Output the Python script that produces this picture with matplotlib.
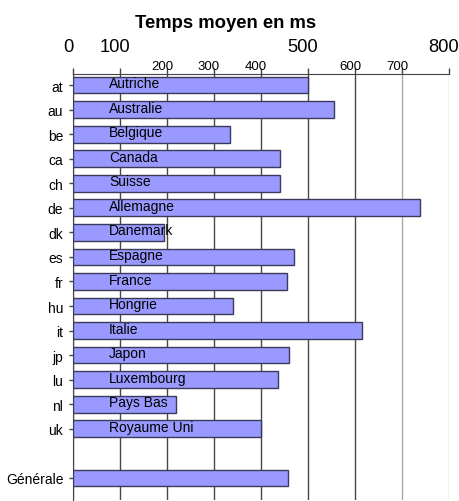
import matplotlib
matplotlib.use("Agg")
import matplotlib.pyplot as plt
import matplotlib.transforms as mtransforms

codes = ["at", "au", "be", "ca", "ch", "de", "dk", "es", "fr", "hu", "it", "jp", "lu", "nl", "uk", "", "Générale"]
names = ["Autriche", "Australie", "Belgique", "Canada", "Suisse", "Allemagne", "Danemark", "Espagne",
         "France", "Hongrie", "Italie", "Japon", "Luxembourg", "Pays Bas", "Royaume Uni", "", ""]
values = [500, 555, 335, 440, 440, 738, 194, 471, 455, 341, 615, 460, 437, 219, 400, None, 458]
xticks = [0, 100, 200, 300, 400, 500, 600, 700, 800]
big_ticks = [0, 100, 500, 800]
title = "Temps moyen en ms"

plt.rcParams["font.family"] = ["Liberation Sans", "DejaVu Sans"]

fig = plt.figure(figsize=(4.59, 5.02), dpi=100)
ax = fig.add_axes([73 / 459, 1 - 501 / 502, (449 - 73) / 459, (501 - 75) / 502])

ypos = list(range(len(codes)))
for y, v, n in zip(ypos, values, names):
    if v is None:
        continue
    ax.barh(y, v, height=0.68, left=0, color="#9999ff", edgecolor="#3a3a5a", linewidth=1, zorder=3)
    if n:
        ax.text(77, y - 0.08, n, ha="left", va="center", fontsize=10, color="black", zorder=4)

ax.set_xlim(0, 800)
ax.set_ylim(16.9, -0.45)
ax.xaxis.tick_top()
ax.set_xticks(xticks)
ax.set_xticklabels([""] * len(xticks))
ax.tick_params(axis="x", length=4, width=1, color="#444444")
ax.grid(axis="x", color="#484848", linewidth=1, zorder=0)
gls = ax.xaxis.get_gridlines()
gls[7].set_color("#aaaaaa")
gls[8].set_color("#c8c8a8")

tick_pos = [y for y, c in zip(ypos, codes) if c]
tick_lab = [c for c in codes if c]
ax.set_yticks(tick_pos)
ax.set_yticklabels(tick_lab, fontsize=10)
ax.tick_params(axis="y", length=3, width=1, pad=4, color="#444444")

for s in ["right", "bottom"]:
    ax.spines[s].set_visible(False)
ax.spines["top"].set_color("#444444")
ax.spines["left"].set_color("#444444")

# x tick labels with two sizes
trans = mtransforms.blended_transform_factory(ax.transData, ax.transAxes)
off_big = mtransforms.ScaledTranslation(-5 / 100, 19 / 100, fig.dpi_scale_trans)
off_small = mtransforms.ScaledTranslation(-5 / 100, 2.5 / 100, fig.dpi_scale_trans)
for t in xticks:
    if t in big_ticks:
        ax.text(t, 1.0, str(t), transform=trans + off_big, ha="center", va="bottom", fontsize=13.2)
    else:
        ax.text(t, 1.0, str(t), transform=trans + off_small, ha="center", va="bottom", fontsize=9.5)

fig.text(225.5 / 459, 1 - 23 / 502, title, ha="center", va="center", fontsize=13.3, fontweight="bold")

fig.savefig("out.png", dpi=100)
